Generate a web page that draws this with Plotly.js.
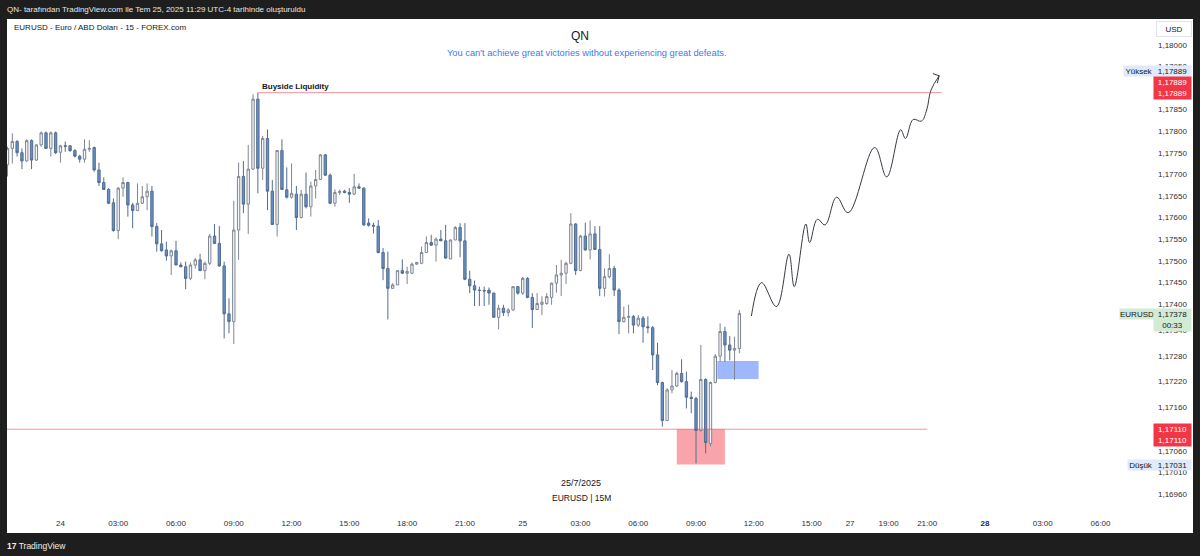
<!DOCTYPE html>
<html>
<head>
<meta charset="utf-8">
<script src="https://cdn.plot.ly/plotly-3.0.1.min.js"></script>
<style>
  html, body { margin: 0; padding: 0; background: #1e1e1e; }
  #chart { width: 1200px; height: 556px; }
</style>
</head>
<body>
<div id="chart"></div>
<script>
// EURUSD 15-minute bars. Slot 0 = 24 Jul 00:00, one slot per 15 minutes.
const firstSlot = -11;

const open = [
  1.17722,1.17760,1.17776,1.17750,1.17731,1.17778,1.17733,1.17768,1.17796,1.17760,1.17796,
  1.17751,1.17766,1.17766,1.17755,1.17742,1.17735,1.17758,1.17762,1.17710,1.17681,
  1.17665,1.17634,1.17570,1.17668,1.17681,1.17629,1.17616,1.17633,1.17648,1.17661,
  1.17579,1.17539,1.17525,1.17511,1.17523,1.17490,1.17486,1.17459,1.17490,1.17502,
  1.17477,1.17494,1.17557,1.17540,1.17488,1.17377,1.17359,1.17571,1.17695,1.17631,
  1.17712,1.17874,1.17714,1.17783,1.17661,1.17584,1.17755,1.17664,1.17647,1.17654,
  1.17600,1.17654,1.17625,1.17673,1.17688,1.17745,1.17698,1.17633,1.17658,1.17661,
  1.17658,1.17654,1.17671,1.17668,1.17587,1.17582,1.17580,1.17519,1.17482,1.17436,
  1.17444,1.17477,1.17471,1.17471,1.17492,1.17494,1.17519,1.17542,1.17536,1.17550,
  1.17546,1.17504,1.17548,1.17577,1.17546,1.17457,1.17442,1.17432,1.17431,1.17432,
  1.17425,1.17369,1.17390,1.17380,1.17386,1.17440,1.17425,1.17459,1.17415,1.17387,
  1.17399,1.17401,1.17415,1.17448,1.17467,1.17471,1.17494,1.17585,1.17477,1.17557,
  1.17525,1.17562,1.17526,1.17436,1.17463,1.17482,1.17432,1.17359,1.17369,1.17371,
  1.17351,1.17367,1.17347,1.17345,1.17282,1.17218,1.17130,1.17201,1.17210,1.17239,
  1.17220,1.17184,1.17181,1.17107,1.17225,1.17077,1.17218,1.17279,1.17336,1.17305,
  1.17293,1.17297
];
const high = [
  1.17764,1.17795,1.17779,1.17760,1.17781,1.17781,1.17770,1.17799,1.17799,1.17799,1.17799,
  1.17768,1.17776,1.17768,1.17758,1.17745,1.17781,1.17779,1.17764,1.17727,1.17693,
  1.17668,1.17644,1.17670,1.17693,1.17683,1.17634,1.17679,1.17673,1.17679,1.17673,
  1.17587,1.17571,1.17544,1.17526,1.17546,1.17496,1.17498,1.17496,1.17506,1.17516,
  1.17498,1.17562,1.17585,1.17580,1.17498,1.17413,1.17639,1.17727,1.17731,1.17768,
  1.17885,1.17889,1.17789,1.17804,1.17687,1.17756,1.17781,1.17716,1.17725,1.17673,
  1.17664,1.17704,1.17683,1.17710,1.17747,1.17747,1.17702,1.17665,1.17665,1.17664,
  1.17668,1.17701,1.17679,1.17670,1.17598,1.17588,1.17594,1.17529,1.17521,1.17448,
  1.17477,1.17503,1.17486,1.17496,1.17497,1.17533,1.17556,1.17560,1.17554,1.17571,
  1.17583,1.17549,1.17580,1.17587,1.17587,1.17477,1.17454,1.17440,1.17440,1.17438,
  1.17426,1.17398,1.17398,1.17390,1.17441,1.17441,1.17463,1.17462,1.17425,1.17425,
  1.17418,1.17425,1.17449,1.17490,1.17502,1.17498,1.17610,1.17587,1.17560,1.17588,
  1.17593,1.17580,1.17580,1.17482,1.17515,1.17488,1.17436,1.17394,1.17398,1.17374,
  1.17374,1.17372,1.17371,1.17349,1.17310,1.17220,1.17205,1.17247,1.17243,1.17272,
  1.17243,1.17197,1.17185,1.17305,1.17228,1.17220,1.17284,1.17355,1.17347,1.17326,
  1.17324,1.17386
];
const low = [
  1.17695,1.17725,1.17741,1.17712,1.17729,1.17712,1.17731,1.17764,1.17759,1.17741,1.17747,
  1.17727,1.17752,1.17752,1.17739,1.17727,1.17727,1.17752,1.17706,1.17673,1.17664,
  1.17631,1.17567,1.17550,1.17648,1.17602,1.17575,1.17615,1.17631,1.17617,1.17556,
  1.17521,1.17521,1.17500,1.17467,1.17490,1.17485,1.17434,1.17455,1.17482,1.17477,
  1.17457,1.17490,1.17539,1.17486,1.17320,1.17332,1.17307,1.17502,1.17610,1.17562,
  1.17710,1.17656,1.17687,1.17617,1.17583,1.17556,1.17664,1.17644,1.17644,1.17571,
  1.17598,1.17621,1.17602,1.17644,1.17688,1.17696,1.17631,1.17625,1.17652,1.17656,
  1.17634,1.17652,1.17667,1.17580,1.17579,1.17563,1.17517,1.17455,1.17364,1.17436,
  1.17444,1.17469,1.17446,1.17469,1.17491,1.17492,1.17519,1.17534,1.17498,1.17546,
  1.17505,1.17504,1.17548,1.17508,1.17455,1.17425,1.17395,1.17395,1.17395,1.17398,
  1.17369,1.17341,1.17372,1.17371,1.17384,1.17421,1.17421,1.17413,1.17344,1.17386,
  1.17374,1.17398,1.17398,1.17426,1.17418,1.17446,1.17492,1.17467,1.17476,1.17523,
  1.17503,1.17525,1.17418,1.17417,1.17459,1.17418,1.17330,1.17357,1.17332,1.17332,
  1.17347,1.17310,1.17332,1.17247,1.17212,1.17116,1.17129,1.17193,1.17208,1.17218,
  1.17158,1.17147,1.17031,1.17104,1.17054,1.17070,1.17216,1.17266,1.17266,1.17269,
  1.17224,1.17286
];
const close = [
  1.17760,1.17776,1.17750,1.17731,1.17778,1.17733,1.17768,1.17796,1.17760,1.17796,1.17750,
  1.17766,1.17765,1.17755,1.17742,1.17735,1.17758,1.17760,1.17710,1.17681,1.17665,
  1.17633,1.17570,1.17668,1.17681,1.17629,1.17616,1.17633,1.17648,1.17661,1.17579,
  1.17539,1.17523,1.17511,1.17523,1.17490,1.17486,1.17459,1.17490,1.17502,1.17477,
  1.17494,1.17557,1.17540,1.17488,1.17377,1.17359,1.17571,1.17695,1.17631,1.17712,
  1.17874,1.17714,1.17783,1.17661,1.17584,1.17755,1.17665,1.17647,1.17656,1.17600,
  1.17654,1.17625,1.17673,1.17688,1.17745,1.17698,1.17633,1.17658,1.17660,1.17658,
  1.17654,1.17671,1.17668,1.17583,1.17582,1.17580,1.17519,1.17482,1.17436,1.17444,
  1.17477,1.17471,1.17475,1.17492,1.17496,1.17519,1.17542,1.17536,1.17550,1.17546,
  1.17506,1.17548,1.17577,1.17546,1.17457,1.17442,1.17432,1.17431,1.17430,1.17425,
  1.17369,1.17390,1.17380,1.17386,1.17440,1.17425,1.17459,1.17415,1.17387,1.17401,
  1.17404,1.17417,1.17448,1.17467,1.17471,1.17494,1.17585,1.17477,1.17557,1.17525,
  1.17562,1.17526,1.17436,1.17463,1.17482,1.17432,1.17359,1.17369,1.17371,1.17351,
  1.17367,1.17347,1.17345,1.17282,1.17218,1.17130,1.17201,1.17210,1.17239,1.17220,
  1.17184,1.17181,1.17107,1.17225,1.17079,1.17218,1.17279,1.17336,1.17305,1.17293,
  1.17297,1.17378
];
const slots = open.map((_, k) => firstSlot + k);

// Time scale labels (weekend gap collapsed: slot 164 is the Sunday 27 session open)
const timeTickSlots  = [0, 12, 24, 36, 48, 60, 72, 84, 96, 108, 120, 132, 144, 156, 164, 172, 180, 192, 204, 216];
const timeTickLabels = ['24','03:00','06:00','09:00','12:00','15:00','18:00','21:00','25','03:00','06:00','09:00','12:00','15:00','27','19:00','21:00','<b>28</b>','03:00','06:00'];

// Price scale labels
const priceTicks = [1.18000,1.17950,1.17850,1.17800,1.17750,1.17700,1.17650,1.17600,1.17550,1.17500,1.17450,
                    1.17400,1.17340,1.17280,1.17220,1.17160,1.17060,1.17010,1.16960];

// Key levels and zones
const dayHigh = 1.17889;
const dayLow = 1.17031;
const lastPrice = 1.17378;
const barCountdown = '00:33';
const sellSideLevel = 1.17110;
const buySideFrom = 41, buySideTo = 183;
const sellSideTo = 180;
const demandZone = { from: 128, to: 138, bottom: 1.17028, top: 1.17110 };
const orderBlock = { from: 136.4, to: 145, bottom: 1.17226, top: 1.17268 };

// Projected path drawn by hand after the last bar
const projSlots  = [143.5,145.6,148.7,151.3,152.4,154.8,155.6,157.2,158.8,161.2,163.6,169.1,171.6,174.5,175.5,177.1,178.8,179.9,180.8,182.5];
const projPrices = [1.17372,1.17449,1.17394,1.17515,1.17440,1.17585,1.17542,1.17596,1.17583,1.17647,1.17611,1.17762,1.17694,1.17803,1.17783,1.17827,1.17823,1.17849,1.17895,1.17928];
const arrowSlots  = [181.2, 182.5, 182.1];
const arrowPrices = [1.17933, 1.17928, 1.17911];

// ---- layout geometry ----
const W = 1200, H = 556;
const M = { l: 7, r: 80, t: 19, b: 43 };
const PW = W - M.l - M.r, PH = H - M.t - M.b;
const px = x => (x - M.l) / PW;          // pixel column -> paper x
const py = y => (H - M.b - y) / PH;      // pixel row -> paper y

const FONT = 'Liberation Sans, Arial, sans-serif';
const INK = '#131722';
const fmt = v => v.toFixed(5).replace('.', ',');

const candles = {
  type: 'candlestick',
  x: slots, open: open, high: high, low: low, close: close,
  increasing: { fillcolor: '#f3f7fc', line: { color: '#7f8690', width: 1 } },
  decreasing: { fillcolor: '#6590c5', line: { color: '#536d8f', width: 1 } },
  whiskerwidth: 0,
  hoverinfo: 'skip'
};

const projection = {
  type: 'scatter', mode: 'lines',
  x: projSlots, y: projPrices,
  line: { color: '#363a45', width: 1, shape: 'spline', smoothing: 1.1 },
  hoverinfo: 'skip'
};
const arrowHead = {
  type: 'scatter', mode: 'lines',
  x: arrowSlots, y: arrowPrices,
  line: { color: '#363a45', width: 1 },
  hoverinfo: 'skip'
};

const shapes = [
  // white chart panel over the dark frame
  { type: 'rect', xref: 'paper', yref: 'paper', x0: px(7), x1: px(1193), y0: py(533), y1: py(19),
    fillcolor: '#ffffff', line: { width: 0 }, layer: 'below' },
  // zones
  { type: 'rect', xref: 'x', yref: 'y', x0: demandZone.from, x1: demandZone.to, y0: demandZone.bottom, y1: demandZone.top,
    fillcolor: 'rgba(242,54,69,0.45)', line: { width: 0 }, layer: 'below' },
  { type: 'rect', xref: 'x', yref: 'y', x0: orderBlock.from, x1: orderBlock.to, y0: orderBlock.bottom, y1: orderBlock.top,
    fillcolor: 'rgba(41,98,255,0.45)', line: { width: 0 }, layer: 'below' },
  // liquidity levels
  { type: 'line', xref: 'x', yref: 'y', x0: buySideFrom, x1: buySideTo, y0: dayHigh, y1: dayHigh,
    line: { color: 'rgba(242,54,69,0.55)', width: 1 } },
  { type: 'line', xref: 'x', yref: 'y', x0: firstSlot - 1, x1: sellSideTo, y0: sellSideLevel, y1: sellSideLevel,
    line: { color: 'rgba(242,54,69,0.55)', width: 1 } }
];

function tag(text, x0, x1, yc, h, bg, color, extra) {
  return Object.assign({
    text: text, xref: 'paper', yref: 'paper', x: px(x0), y: py(yc),
    xanchor: 'left', yanchor: 'middle', showarrow: false,
    width: x1 - x0, height: h, bgcolor: bg, borderpad: 0, align: 'center',
    font: { family: FONT, size: 8, color: color }
  }, extra || {});
}

const annotations = [
  { text: 'QN- tarafından TradingView.com ile Tem 25, 2025 11:29 UTC-4 tarihinde oluşturuldu',
    xref: 'paper', yref: 'paper', x: px(5), y: py(9.5), xanchor: 'left', yanchor: 'middle', showarrow: false,
    font: { family: FONT, size: 8, color: '#e8e8e8' } },
  { text: 'EURUSD - Euro / ABD Doları - 15 - FOREX.com',
    xref: 'paper', yref: 'paper', x: px(12), y: py(27), xanchor: 'left', yanchor: 'middle', showarrow: false,
    font: { family: FONT, size: 8, color: INK } },
  { text: 'QN', xref: 'paper', yref: 'paper', x: px(580), y: py(36), xanchor: 'center', yanchor: 'middle', showarrow: false,
    font: { family: FONT, size: 12, color: INK } },
  { text: "You can't achieve great victories without experiencing great defeats.",
    xref: 'paper', yref: 'paper', x: px(586), y: py(53), xanchor: 'center', yanchor: 'middle', showarrow: false,
    font: { family: FONT, size: 9.3, color: '#3b79f2' } },
  { text: '<b>Buyside Liquidity</b>', xref: 'x', yref: 'y', x: buySideFrom, y: dayHigh,
    xanchor: 'left', yanchor: 'bottom', xshift: 2, yshift: 0, showarrow: false,
    font: { family: FONT, size: 8, color: INK } },
  { text: '25/7/2025', xref: 'paper', yref: 'paper', x: px(581), y: py(483), xanchor: 'center', yanchor: 'middle', showarrow: false,
    font: { family: FONT, size: 9, color: INK } },
  { text: 'EURUSD | 15M', xref: 'paper', yref: 'paper', x: px(581), y: py(498), xanchor: 'center', yanchor: 'middle', showarrow: false,
    font: { family: FONT, size: 8.5, color: INK } },

  // price scale badges
  tag('USD', 1156, 1190, 29, 14, '#ffffff', INK, { bordercolor: '#e0e3eb', borderwidth: 1 }),
  tag('Yüksek', 1123, 1153, 71, 10, '#dfeafa', INK),
  tag(fmt(dayHigh), 1153, 1190, 71, 10, '#dfeafa', INK),
  tag(fmt(dayHigh) + '<br>' + fmt(dayHigh), 1153, 1190, 88, 22, '#f23645', '#ffffff'),
  tag('EURUSD', 1119, 1153, 314, 10, '#d3ead5', INK),
  tag(fmt(lastPrice) + '<br>' + barCountdown, 1153, 1190, 320, 22, '#d3ead5', INK),
  tag(fmt(sellSideLevel) + '<br>' + fmt(sellSideLevel), 1153, 1190, 435, 22, '#f23645', '#ffffff'),
  tag('Düşük', 1127, 1153, 464.5, 10, '#dfeafa', INK),
  tag(fmt(dayLow), 1153, 1190, 464.5, 10, '#dfeafa', INK),

  // footer logo
  { text: '<b>17</b> TradingView', xref: 'paper', yref: 'paper', x: px(5), y: py(546), xanchor: 'left', yanchor: 'middle', showarrow: false,
    font: { family: FONT, size: 8.5, color: '#f0f0f0' } }
];

const layout = {
  width: W, height: H,
  margin: M,
  paper_bgcolor: '#1e1e1e',
  plot_bgcolor: '#ffffff',
  showlegend: false,
  dragmode: false,
  hovermode: false,
  xaxis: {
    range: [firstSlot - 0.1, 220.05], autorange: false,
    rangeslider: { visible: false },
    tickmode: 'array', tickvals: timeTickSlots, ticktext: timeTickLabels,
    showgrid: false, zeroline: false, showline: false, ticks: '',
    ticklabelstandoff: 4,
    tickfont: { family: FONT, size: 8, color: '#2a2e39' },
    automargin: false
  },
  yaxis: {
    side: 'right',
    range: [1.16916, 1.180595], autorange: false,
    tickmode: 'array', tickvals: priceTicks, ticktext: priceTicks.map(fmt),
    showgrid: false, zeroline: false, showline: false, ticks: '',
    ticklabelstandoff: 37,
    tickfont: { family: FONT, size: 8, color: '#2a2e39' },
    automargin: false
  },
  shapes: shapes,
  annotations: annotations
};

Plotly.newPlot('chart', [candles, projection, arrowHead], layout, { staticPlot: true, displayModeBar: false });
</script>
</body>
</html>
